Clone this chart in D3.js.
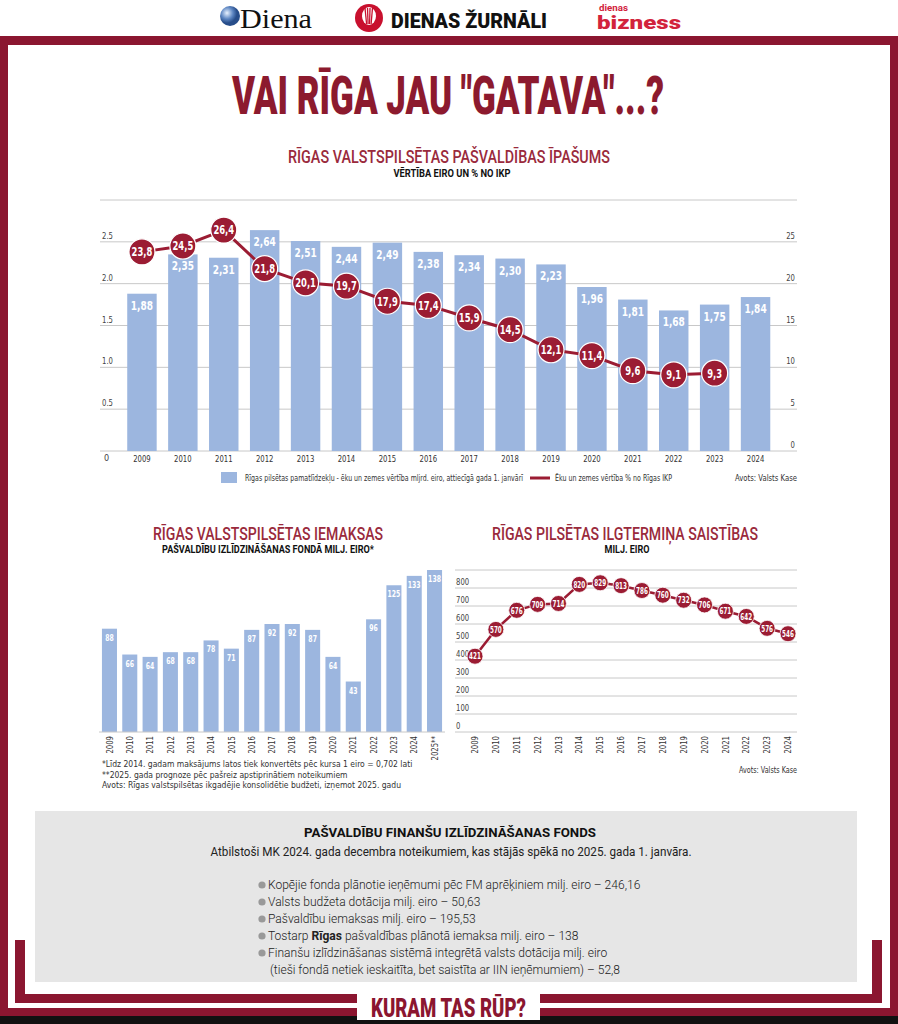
<!DOCTYPE html>
<html><head><meta charset="utf-8">
<script src="https://cdn.jsdelivr.net/npm/d3@7"></script>
<style>body{margin:0;background:#fff}svg{display:block}</style>
</head><body><svg id="c" width="898" height="1024"></svg>
<script>
// ---------- DATA ----------
const years1 = ["2009","2010","2011","2012","2013","2014","2015","2016","2017","2018","2019","2020","2021","2022","2023","2024"];
const assetValues = [1.88,2.35,2.31,2.64,2.51,2.44,2.49,2.38,2.34,2.30,2.23,1.96,1.81,1.68,1.75,1.84];
const gdpShareYears = ["2009","2010","2011","2012","2013","2014","2015","2016","2017","2018","2019","2020","2021","2022","2023"];
const gdpShare = [23.8,24.5,26.4,21.8,20.1,19.7,17.9,17.4,15.9,14.5,12.1,11.4,9.6,9.1,9.3];
const leftTicks1 = [0.5,1.0,1.5,2.0,2.5];
const rightTicks1 = [0,5,10,15,20,25];

const years2 = ["2009","2010","2011","2012","2013","2014","2015","2016","2017","2018","2019","2020","2021","2022","2023","2024","2025**"];
const contributions = [88,66,64,68,68,78,71,87,92,92,87,64,43,96,125,133,138];

const years3 = ["2009","2010","2011","2012","2013","2014","2015","2016","2017","2018","2019","2020","2021","2022","2023","2024"];
const liabilities = [421,570,676,709,714,820,829,813,786,760,732,706,671,642,576,546];
const ticks3 = [0,100,200,300,400,500,600,700,800];

const footnotes = [
  "*Līdz 2014. gadam maksājums latos tiek konvertēts pēc kursa 1 eiro = 0,702 lati",
  "**2025. gada prognoze pēc pašreiz apstiprinātiem noteikumiem",
  "Avots: Rīgas valstspilsētas ikgadējie konsolidētie budžeti, izņemot 2025. gadu"
];
const bullets = [
  [["Kopējie fonda plānotie ieņēmumi pēc FM aprēķiniem milj. eiro – 246,16",false]],
  [["Valsts budžeta dotācija milj. eiro – 50,63",false]],
  [["Pašvaldību iemaksas milj. eiro – 195,53",false]],
  [["Tostarp ",false],["Rīgas",true],[" pašvaldības plānotā iemaksa milj. eiro – 138",false]],
  [["Finanšu izlīdzināšanas sistēmā integrētā valsts dotācija milj. eiro",false]],
  [["(tieši fondā netiek ieskaitīta, bet saistīta ar IIN ieņēmumiem) – 52,8",false]]
];

// ---------- STYLE ----------
const RED = "#8b1630", LINE = "#9b1c33", BLUE = "#9cb6df", GRID = "#c8c8c8", TXT = "#333";
const COND = "'Liberation Sans Narrow','Arial Narrow','DejaVu Sans Condensed','Roboto Condensed',Roboto,sans-serif";
const HEAVY = "Roboto,'Open Sans','Liberation Sans',sans-serif";
const fmt = d => String(d).replace(".", ",");
const fmt2 = d => d.toFixed(2).replace(".", ",");

const svg = d3.select("#c");
svg.append("rect").attr("width",898).attr("height",1024).attr("fill","#fff");

function txt(g, o){
  const t = g.append("text").attr("x",o.x).attr("y",o.y).text(o.text)
    .attr("font-family", o.family||COND).attr("font-size", o.size)
    .attr("font-weight", o.weight||400).attr("fill", o.fill||TXT)
    .attr("text-anchor", o.anchor||"start");
  if (o.len) t.attr("textLength", o.len).attr("lengthAdjust","spacingAndGlyphs");
  return t;
}
// narrow a set of texts to a fraction of their natural width
function squeeze(sel, f){
  sel.each(function(){
    const w = this.getComputedTextLength();
    d3.select(this).attr("textLength", w*f).attr("lengthAdjust","spacingAndGlyphs");
  });
}

// ---------- HEADER LOGOS ----------
const hd = svg.append("g");
const grad = svg.append("defs").append("radialGradient").attr("id","globe").attr("cx","35%").attr("cy","35%");
grad.append("stop").attr("offset","0%").attr("stop-color","#e8f2ff");
grad.append("stop").attr("offset","60%").attr("stop-color","#5d86c2");
grad.append("stop").attr("offset","100%").attr("stop-color","#274d8a");
hd.append("circle").attr("cx",230).attr("cy",16).attr("r",10).attr("fill","url(#globe)");
txt(hd,{x:240,y:28,text:"Diena",size:27,family:"'Liberation Serif','DejaVu Serif',serif",fill:"#111",len:72});
hd.append("circle").attr("cx",369).attr("cy",18).attr("r",14).attr("fill","#c8102e");
hd.append("ellipse").attr("cx",369).attr("cy",16).attr("rx",7).attr("ry",9).attr("fill","#fff");
[-4,-1.5,1,3.5].forEach(dx=>hd.append("line").attr("x1",369+dx).attr("x2",369+dx*0.6).attr("y1",8).attr("y2",24).attr("stroke","#c8102e").attr("stroke-width",1.3));
txt(hd,{x:391,y:28,text:"DIENAS ŽURNĀLI",size:21,weight:900,family:HEAVY,fill:"#111",len:156});
txt(hd,{x:599,y:11,text:"dienas",size:9,weight:700,family:HEAVY,fill:"#d2233c",len:29});
txt(hd,{x:597,y:29,text:"bizness",size:19,weight:900,family:HEAVY,fill:"#d2233c",len:84});

// ---------- FRAME ----------
const fr = svg.append("g").attr("fill",RED);
fr.append("rect").attr("x",0).attr("y",36).attr("width",898).attr("height",9);
fr.append("rect").attr("x",0).attr("y",36).attr("width",8).attr("height",980);
fr.append("rect").attr("x",890).attr("y",36).attr("width",8).attr("height",980);
fr.append("rect").attr("x",0).attr("y",1008).attr("width",898).attr("height",8);
fr.append("rect").attr("x",15).attr("y",940).attr("width",10).attr("height",63);
fr.append("rect").attr("x",872).attr("y",940).attr("width",10).attr("height",63);
fr.append("rect").attr("x",15).attr("y",994).attr("width",867).attr("height",9);
svg.append("rect").attr("x",0).attr("y",1016).attr("width",898).attr("height",8).attr("fill","#111");
svg.append("rect").attr("x",357).attr("y",991).attr("width",183).attr("height",29).attr("fill","#fff");
txt(svg,{x:448.5,y:1017,text:"KURAM TAS RŪP?",size:25,weight:900,family:HEAVY,fill:RED,anchor:"middle",len:155});

// ---------- MAIN TITLE ----------
txt(svg,{x:448,y:114,text:"VAI RĪGA JAU \"GATAVA\"...?",size:54,weight:900,family:HEAVY,fill:"#8c1a2e",anchor:"middle",len:432});

// ---------- CHART 1 ----------
const c1 = svg.append("g");
txt(c1,{x:449,y:163,text:"RĪGAS VALSTSPILSĒTAS PAŠVALDĪBAS ĪPAŠUMS",size:18,weight:500,family:HEAVY,fill:"#9a2a3c",anchor:"middle",len:322});
txt(c1,{x:452,y:177,text:"VĒRTĪBA EIRO UN % NO IKP",size:10,weight:700,family:HEAVY,fill:"#111",anchor:"middle",len:117});

const x1 = d3.scaleBand().domain(years1).range([121.5,776]).paddingInner(0.28).paddingOuter(0.14);
const yL = d3.scaleLinear().domain([0,3]).range([451,200]);
const yR = d3.scaleLinear().domain([0,30]).range([451,200]);

c1.append("g").selectAll("line").data([0,0.5,1,1.5,2,2.5,3]).join("line")
  .attr("x1",100).attr("x2",797).attr("y1",d=>yL(d)).attr("y2",d=>yL(d))
  .attr("stroke",GRID).attr("stroke-width",1);
squeeze(c1.append("g").selectAll("text").data(leftTicks1).join("text")
  .attr("x",102).attr("y",d=>yL(d)-3).text(d=>d.toFixed(1))
  .attr("font-family",COND).attr("font-size",9).attr("fill","#444"), 0.85);
txt(c1,{x:104,y:461,text:"0",size:9,fill:"#444"});
squeeze(c1.append("g").selectAll("text").data(rightTicks1).join("text")
  .attr("x",795).attr("y",d=>yR(d)-3).text(d=>d).attr("text-anchor","end")
  .attr("font-family",COND).attr("font-size",9).attr("fill","#444"), 0.85);

c1.append("g").selectAll("rect").data(years1).join("rect")
  .attr("x",d=>x1(d)).attr("width",x1.bandwidth())
  .attr("y",(d,i)=>yL(assetValues[i])).attr("height",(d,i)=>yL(0)-yL(assetValues[i]))
  .attr("fill",BLUE);
squeeze(c1.append("g").selectAll("text").data(years1).join("text")
  .attr("x",d=>x1(d)+x1.bandwidth()/2).attr("y",(d,i)=>yL(assetValues[i])+16)
  .text((d,i)=>fmt2(assetValues[i])).attr("text-anchor","middle")
  .attr("font-family",COND).attr("font-size",12.5).attr("font-weight",700).attr("fill","#fff"), 0.8);
squeeze(c1.append("g").selectAll("text").data(years1).join("text")
  .attr("x",d=>x1(d)+x1.bandwidth()/2).attr("y",462).text(d=>d).attr("text-anchor","middle")
  .attr("font-family",COND).attr("font-size",9).attr("fill",TXT), 0.85);

const cx1 = d => x1(d)+x1.bandwidth()/2;
c1.append("path").datum(gdpShareYears)
  .attr("d", d3.line().x(d=>cx1(d)).y((d,i)=>yR(gdpShare[i])))
  .attr("fill","none").attr("stroke",LINE).attr("stroke-width",3);
c1.append("g").selectAll("circle").data(gdpShareYears).join("circle")
  .attr("cx",d=>cx1(d)).attr("cy",(d,i)=>yR(gdpShare[i])).attr("r",13)
  .attr("fill",LINE).attr("stroke","#fff").attr("stroke-width",1.2);
squeeze(c1.append("g").selectAll("text").data(gdpShareYears).join("text")
  .attr("x",d=>cx1(d)).attr("y",(d,i)=>yR(gdpShare[i])).attr("dy","0.36em")
  .text((d,i)=>fmt(gdpShare[i])).attr("text-anchor","middle")
  .attr("font-family",COND).attr("font-size",12).attr("font-weight",700).attr("fill","#fff"), 0.78);

// legend
c1.append("rect").attr("x",221).attr("y",472).attr("width",16).attr("height",11).attr("fill",BLUE);
txt(c1,{x:245,y:481,text:"Rīgas pilsētas pamatlīdzekļu - ēku un zemes vērtība mljrd. eiro, attiecīgā gada 1. janvārī",size:8,fill:TXT,len:278});
c1.append("line").attr("x1",530).attr("x2",550).attr("y1",478).attr("y2",478).attr("stroke",LINE).attr("stroke-width",3);
txt(c1,{x:555,y:481,text:"Ēku un zemes vērtība % no Rīgas  IKP",size:8,fill:TXT,len:117});
txt(c1,{x:797,y:481,text:"Avots: Valsts Kase",size:8,fill:TXT,anchor:"end",len:62});

// ---------- CHART 2 ----------
const c2 = svg.append("g");
txt(c2,{x:268,y:540,text:"RĪGAS VALSTSPILSĒTAS IEMAKSAS",size:18,weight:500,family:HEAVY,fill:"#9a2a3c",anchor:"middle",len:230});
txt(c2,{x:268,y:553,text:"PAŠVALDĪBU IZLĪDZINĀŠANAS FONDĀ MILJ. EIRO*",size:10,weight:700,family:HEAVY,fill:"#111",anchor:"middle",len:212});
const x2 = d3.scaleBand().domain(years2).range([99.3,444.7]).paddingInner(0.26).paddingOuter(0.13);
const y2 = d3.scaleLinear().domain([0,138]).range([732,570]);
c2.append("g").selectAll("rect").data(years2).join("rect")
  .attr("x",d=>x2(d)).attr("width",x2.bandwidth())
  .attr("y",(d,i)=>y2(contributions[i])).attr("height",(d,i)=>y2(0)-y2(contributions[i]))
  .attr("fill",BLUE);
squeeze(c2.append("g").selectAll("text").data(years2).join("text")
  .attr("x",d=>x2(d)+x2.bandwidth()/2).attr("y",(d,i)=>y2(contributions[i])+12)
  .text((d,i)=>contributions[i]).attr("text-anchor","middle")
  .attr("font-family",COND).attr("font-size",9.5).attr("font-weight",700).attr("fill","#fff"), 0.72);
c2.append("line").attr("x1",99).attr("x2",445).attr("y1",732).attr("y2",732).attr("stroke",GRID);
squeeze(c2.append("g").selectAll("text").data(years2).join("text")
  .attr("transform",d=>`translate(${x2(d)+x2.bandwidth()/2},736) rotate(-90)`)
  .attr("dy","0.35em").attr("text-anchor","end").text(d=>d)
  .attr("font-family",COND).attr("font-size",9).attr("fill",TXT), 0.85);
c2.append("g").selectAll("text").data(footnotes).join("text")
  .attr("x",102).attr("y",(d,i)=>767+i*10.5).text(d=>d)
  .attr("font-family",COND).attr("font-size",8.5).attr("fill",TXT);

// ---------- CHART 3 ----------
const c3 = svg.append("g");
txt(c3,{x:625,y:540,text:"RĪGAS PILSĒTAS ILGTERMIŅA SAISTĪBAS",size:18,weight:500,family:HEAVY,fill:"#9a2a3c",anchor:"middle",len:266});
txt(c3,{x:627,y:553,text:"MILJ. EIRO",size:10,weight:700,family:HEAVY,fill:"#111",anchor:"middle",len:45});
const x3 = d3.scalePoint().domain(years3).range([475,788]);
const y3 = d3.scaleLinear().domain([0,900]).range([732,570]);
c3.append("g").selectAll("line").data(d3.range(0,1000,100)).join("line")
  .attr("x1",455).attr("x2",797).attr("y1",d=>y3(d)).attr("y2",d=>y3(d))
  .attr("stroke",GRID);
squeeze(c3.append("g").selectAll("text").data(ticks3).join("text")
  .attr("x",456).attr("y",d=>y3(d)-3).text(d=>d)
  .attr("font-family",COND).attr("font-size",9).attr("fill","#444"), 0.85);
c3.append("path").datum(years3)
  .attr("d", d3.line().x(d=>x3(d)).y((d,i)=>y3(liabilities[i])))
  .attr("fill","none").attr("stroke",LINE).attr("stroke-width",2.5);
c3.append("g").selectAll("circle").data(years3).join("circle")
  .attr("cx",d=>x3(d)).attr("cy",(d,i)=>y3(liabilities[i])).attr("r",8)
  .attr("fill",LINE).attr("stroke","#fff").attr("stroke-width",0.8);
squeeze(c3.append("g").selectAll("text").data(years3).join("text")
  .attr("x",d=>x3(d)).attr("y",(d,i)=>y3(liabilities[i])).attr("dy","0.36em")
  .text((d,i)=>liabilities[i]).attr("text-anchor","middle")
  .attr("font-family",COND).attr("font-size",9).attr("font-weight",700).attr("fill","#fff"), 0.7);
squeeze(c3.append("g").selectAll("text").data(years3).join("text")
  .attr("transform",d=>`translate(${x3(d)},736) rotate(-90)`)
  .attr("dy","0.35em").attr("text-anchor","end").text(d=>d)
  .attr("font-family",COND).attr("font-size",9).attr("fill",TXT), 0.85);
txt(c3,{x:797,y:773,text:"Avots: Valsts Kase",size:8,fill:TXT,anchor:"end",len:58});

// ---------- INFO BOX ----------
const ib = svg.append("g");
ib.append("rect").attr("x",35).attr("y",811).attr("width",822).attr("height",171).attr("fill","#e6e6e6");
txt(ib,{x:450,y:837,text:"PAŠVALDĪBU FINANŠU IZLĪDZINĀŠANAS FONDS",size:13,weight:700,family:HEAVY,fill:"#111",anchor:"middle",len:292});
txt(ib,{x:451,y:856,text:"Atbilstoši MK 2024. gada decembra noteikumiem, kas stājās spēkā no 2025. gada 1. janvāra.",size:13,weight:400,family:HEAVY,fill:"#222",anchor:"middle",len:481});
const bl = ib.append("g");
const lineY = [889,906,923,940,957,974];
bullets.forEach((parts,i)=>{
  if (i<5) bl.append("circle").attr("cx",262).attr("cy",lineY[i]-4).attr("r",3.6).attr("fill","#999");
  const t = bl.append("text").attr("x", i===5?270:268).attr("y",lineY[i])
    .attr("font-family",HEAVY).attr("font-size",13).attr("font-weight",300).attr("fill","#222");
  parts.forEach(p=>t.append("tspan").text(p[0]).attr("font-weight",p[1]?700:300));
});
// compress bullet texts horizontally so the first line matches its width
const texts = bl.selectAll("text").nodes();
const w0 = texts[0].getComputedTextLength();
const sx = 373 / w0;
texts.forEach(n=>{
  const x = +n.getAttribute("x");
  n.setAttribute("transform",`translate(${x},0) scale(${sx},1) translate(${-x},0)`);
});
</script></body></html>
